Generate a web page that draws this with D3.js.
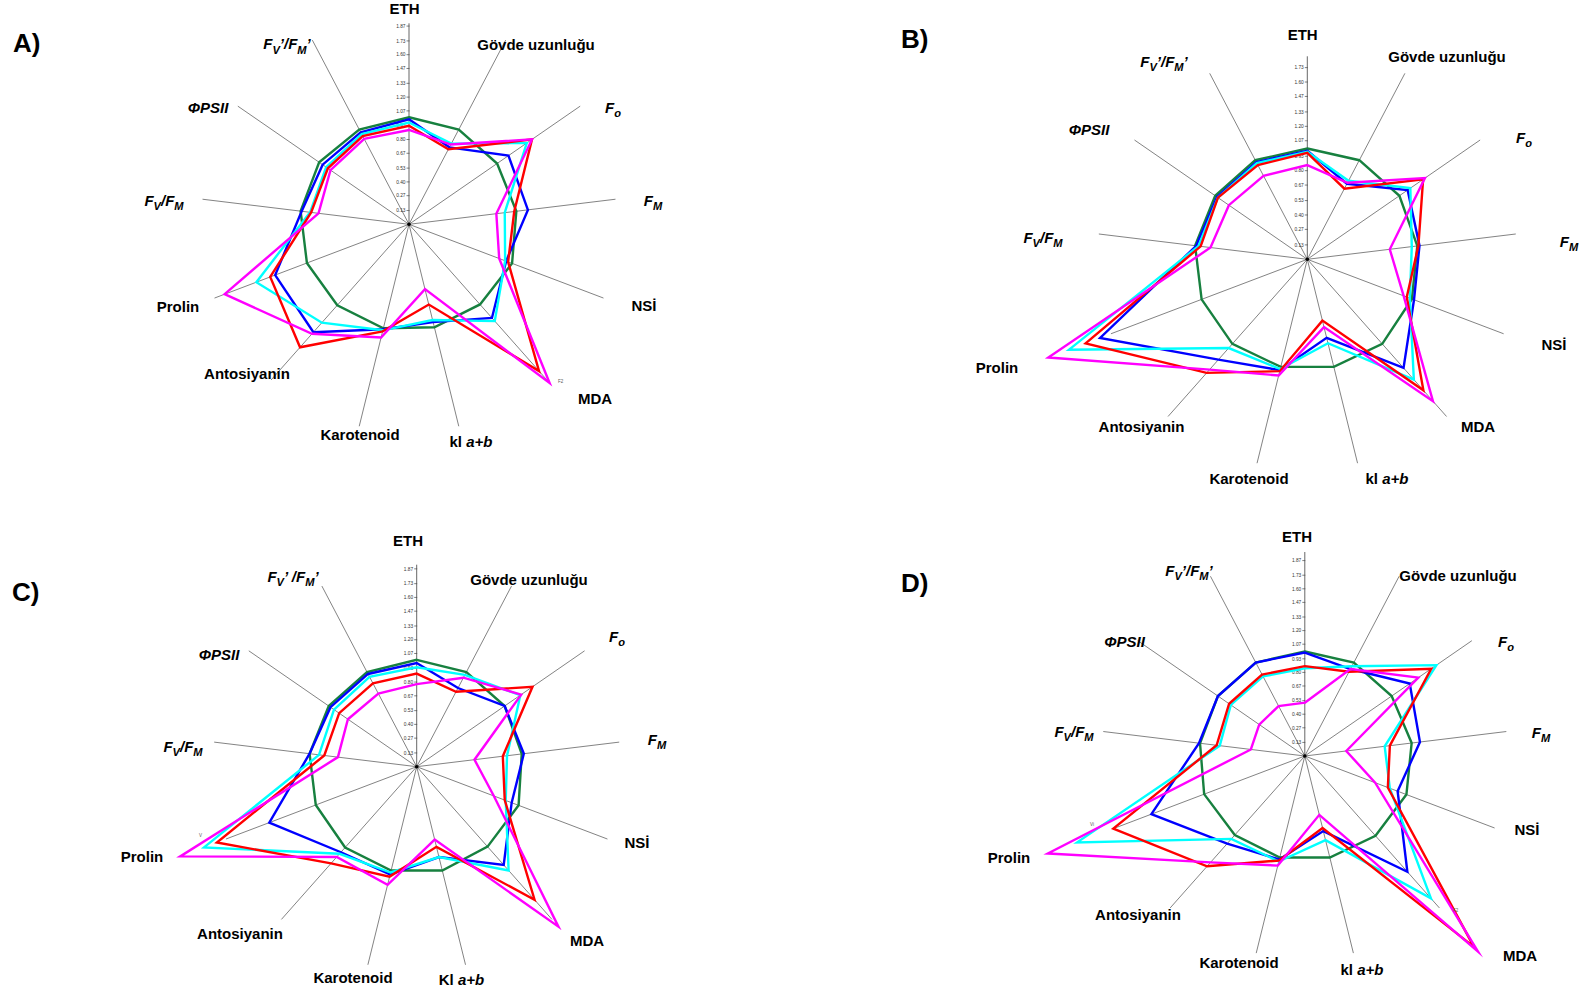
<!DOCTYPE html>
<html>
<head>
<meta charset="utf-8">
<script src="https://cdn.jsdelivr.net/npm/d3@7"></script>
<style>
  html, body { margin: 0; padding: 0; background: #fff; }
  svg { display: block; }
</style>
</head>
<body>
<svg id="chart" width="1585" height="998"></svg>
<script>
// ---- Axes (13 spokes, clockwise from the top) ----
const axisKeys = ["ETH", "Gövde uzunluğu", "Fo", "FM", "NSİ", "MDA", "kl a+b",
  "Karotenoid", "Antosiyanin", "Prolin", "Fv/Fm", "ΦPSII", "Fv'/Fm'"];

// value-axis tick labels printed along the ETH spoke
const tickLabels = ["0.13", "0.27", "0.40", "0.53", "0.67", "0.80", "0.93",
  "1.07", "1.20", "1.33", "1.47", "1.60", "1.73", "1.87"];
const tickLabelsB = ["0.13", "0.27", "0.40", "0.53", "0.67", "0.80", "0.93",
  "1.07", "1.20", "1.33", "1.47", "1.60", "1.73"];

// ---- Series values (relative to control), one array per line ----
// Panel A
const aGreen   = [1.01, 1.01, 1.01, 1.02, 1.04, 1.01, 1.00, 1.01, 1.02, 1.03, 1.03, 1.03, 1.01];
const aBlue    = [0.99, 0.82, 1.14, 1.13, 0.98, 1.18, 0.95, 1.02, 1.36, 1.35, 1.02, 0.99, 0.98];
const aCyan    = [0.96, 0.86, 1.35, 0.91, 0.97, 1.22, 0.93, 1.03, 1.24, 1.54, 0.94, 0.95, 0.96];
const aRed     = [0.93, 0.80, 1.41, 1.00, 1.00, 1.85, 0.78, 1.04, 1.55, 1.40, 0.93, 0.93, 0.94];
const aMagenta = [0.89, 0.85, 1.41, 0.83, 0.91, 2.00, 0.63, 1.10, 1.38, 1.86, 0.86, 0.90, 0.91];
// Panel B
const bGreen   = [1.00, 1.01, 1.01, 1.00, 1.01, 1.02, 1.00, 1.00, 1.02, 1.02, 1.02, 1.01, 1.01];
const bBlue    = [0.98, 0.77, 1.10, 1.02, 1.03, 1.31, 0.73, 1.03, 1.21, 2.00, 1.01, 0.99, 0.99];
const bCyan    = [0.97, 0.80, 1.13, 0.95, 0.99, 1.45, 0.78, 1.02, 1.07, 2.30, 0.99, 0.98, 0.98];
const bRed     = [0.96, 0.72, 1.27, 1.01, 0.96, 1.58, 0.57, 1.04, 1.37, 2.14, 0.97, 0.98, 0.96];
const bMagenta = [0.85, 0.78, 1.29, 0.75, 0.93, 1.71, 0.63, 1.08, 1.33, 2.50, 0.88, 0.86, 0.85];
// Panel C
const cGreen   = [1.01, 1.01, 1.01, 1.00, 1.03, 1.01, 1.01, 1.01, 1.02, 1.02, 1.02, 1.01, 1.01];
const cBlue    = [0.98, 0.84, 1.01, 1.02, 0.96, 1.24, 0.88, 1.05, 1.08, 1.49, 1.02, 0.99, 0.99];
const cCyan    = [0.94, 0.98, 1.19, 0.86, 0.90, 1.31, 0.88, 1.03, 1.10, 2.15, 0.93, 0.95, 0.96];
const cRed     = [0.88, 0.80, 1.33, 0.82, 0.89, 1.68, 0.78, 1.07, 1.22, 2.02, 0.88, 0.89, 0.89];
const cMagenta = [0.78, 0.95, 1.20, 0.55, 0.78, 2.02, 0.71, 1.15, 1.14, 2.39, 0.75, 0.79, 0.78];
// Panel D
const dGreen   = [1.00, 1.01, 1.01, 1.03, 1.04, 1.02, 1.00, 1.00, 1.01, 1.03, 1.01, 1.01, 1.01];
const dBlue    = [0.99, 0.94, 1.22, 1.11, 0.95, 1.48, 0.74, 1.02, 1.12, 1.57, 1.02, 1.01, 1.01];
const dCyan    = [0.84, 0.97, 1.53, 0.77, 0.87, 1.82, 0.83, 1.04, 1.06, 2.33, 0.82, 0.86, 0.86];
const dRed     = [0.86, 0.91, 1.47, 0.82, 0.85, 2.44, 0.71, 1.03, 1.41, 1.96, 0.85, 0.88, 0.88];
const dMagenta = [0.51, 0.94, 1.32, 0.40, 0.72, 2.50, 0.58, 1.08, 1.36, 2.63, 0.52, 0.53, 0.54];

const seriesColors = ["#17803f", "#0000ff", "#00ffff", "#ff0000", "#ff00ff"];

// ---- Axis label text, split into styled runs ----
// b = bold, bi = bold italic, sub = bold italic subscript
function axisLabelRuns(variant) {
  return [
    [["ETH", "b"]],
    [["Gövde uzunluğu", "b"]],
    [["F", "bi"], ["o", "sub"]],
    [["F", "bi"], ["M", "sub"]],
    [["NSİ", "b"]],
    [["MDA", "b"]],
    variant === "C" ? [["Kl ", "b"], ["a+b", "bi"]] : [["kl ", "b"], ["a+b", "bi"]],
    [["Karotenoid", "b"]],
    [["Antosiyanin", "b"]],
    [["Prolin", "b"]],
    [["F", "bi"], ["V", "sub"], ["/F", "bi"], ["M", "sub"]],
    [["ΦPSII", "bi"]],
    variant === "C"
      ? [["F", "bi"], ["V", "sub"], ["’ /F", "bi"], ["M", "sub"], ["’", "bi"]]
      : [["F", "bi"], ["V", "sub"], ["’/F", "bi"], ["M", "sub"], ["’", "bi"]]
  ];
}

// ---- Layout: centres, radial scale (px per unit), spoke length, label spots ----
const panels = [
  { letter: "A)", letterXY: [13, 52], cx: 409, cy: 224.3, k: 106, spoke: 208, axisTop: 201,
    ticks: tickLabels, series: [aGreen, aBlue, aCyan, aRed, aMagenta],
    labelXY: [[404.5, 8.5], [536, 45], [613, 109], [653, 202], [644, 306], [595, 399],
              [471, 442], [360, 435], [247, 374], [178, 307], [164, 202], [208, 108], [287, 45.5]],
    marks: [["F2", 558, 383]] },
  { letter: "B)", letterXY: [901, 48], cx: 1307.3, cy: 259.3, k: 110.8, spoke: 210, axisTop: 203,
    ticks: tickLabelsB, series: [bGreen, bBlue, bCyan, bRed, bMagenta],
    labelXY: [[1302.7, 35], [1447, 57], [1524, 139], [1569, 243], [1554, 345], [1478, 427],
              [1387, 479], [1249, 479], [1141.5, 427], [997, 368], [1043, 239], [1089, 130], [1164, 63]],
    marks: [] },
  { letter: "C)", letterXY: [12, 601], cx: 416.7, cy: 766.7, k: 105.8, spoke: 204, axisTop: 202,
    ticks: tickLabels, series: [cGreen, cBlue, cCyan, cRed, cMagenta],
    labelXY: [[408, 541], [529, 580], [617, 638], [657, 741], [637, 843], [587, 941],
              [461.5, 980], [353, 977.5], [240, 934], [142, 857], [183, 748], [219, 655], [293, 578]],
    marks: [["V", 199, 837]] },
  { letter: "D)", letterXY: [901, 592], cx: 1304.8, cy: 756, k: 104.5, spoke: 203, axisTop: 204,
    ticks: tickLabels, series: [dGreen, dBlue, dCyan, dRed, dMagenta],
    labelXY: [[1297, 537], [1458, 576], [1506, 643], [1541, 734], [1527, 830], [1520, 956],
              [1362, 969.5], [1239, 963], [1138, 915], [1009, 858], [1074, 733], [1124.5, 642], [1189, 572]],
    marks: [["Vi", 1090, 826], ["F2", 1453, 912]] }
];

const FONT = "'Liberation Sans', Arial, Helvetica, sans-serif";
const svg = d3.select("#chart");
svg.append("rect").attr("width", 1585).attr("height", 998).attr("fill", "#fff");

// angular position of each axis (0 = up, clockwise)
const angle = d3.scaleLinear().domain([0, axisKeys.length]).range([0, 2 * Math.PI]);

function drawRuns(g, x, y, runs, size) {
  const t = g.append("text")
    .attr("x", x).attr("y", y)
    .attr("text-anchor", "middle")
    .attr("font-family", FONT)
    .attr("font-weight", "bold")
    .attr("font-size", size)
    .attr("fill", "#000");
  let shift = 0;
  runs.forEach(([txt, st]) => {
    const ts = t.append("tspan").text(txt);
    if (st === "bi" || st === "sub") ts.attr("font-style", "italic");
    if (st === "sub") {
      const s = size * 0.3;
      ts.attr("font-size", size * 0.74).attr("dy", s - shift);
      shift = s;
    } else if (shift) {
      ts.attr("dy", -shift);
      shift = 0;
    }
  });
}

panels.forEach(p => {
  const r = d3.scaleLinear().domain([0, 1]).range([0, p.k]);
  const g = svg.append("g").attr("transform", `translate(${p.cx},${p.cy})`);

  // spokes
  g.selectAll("line.spoke")
    .data(axisKeys.map((_, i) => i).filter(i => i > 0))
    .join("line")
    .attr("class", "spoke")
    .attr("x1", 0).attr("y1", 0)
    .attr("x2", i => p.spoke * Math.sin(angle(i)))
    .attr("y2", i => -p.spoke * Math.cos(angle(i)))
    .attr("stroke", "#5a5a5a")
    .attr("stroke-width", 0.75);

  // value axis on the ETH spoke
  g.append("line")
    .attr("x1", 0).attr("y1", 0).attr("x2", 0).attr("y2", -p.axisTop)
    .attr("stroke", "#4a4a4a").attr("stroke-width", 0.85);

  const tickVals = p.ticks.map(Number);
  g.selectAll("line.tick")
    .data(tickVals).join("line")
    .attr("class", "tick")
    .attr("x1", -2.5).attr("x2", 0.5)
    .attr("y1", d => -r(d)).attr("y2", d => -r(d))
    .attr("stroke", "#4a4a4a").attr("stroke-width", 0.7);
  g.selectAll("text.tick")
    .data(p.ticks).join("text")
    .attr("class", "tick")
    .attr("x", -3.5)
    .attr("y", d => -r(+d) + 1.7)
    .attr("text-anchor", "end")
    .attr("font-family", FONT)
    .attr("font-size", 4.8)
    .attr("fill", "#333")
    .text(d => d);

  // series polygons
  const radial = d3.lineRadial()
    .angle((d, i) => angle(i))
    .radius(d => r(d))
    .curve(d3.curveLinearClosed);

  g.selectAll("path.series")
    .data(p.series).join("path")
    .attr("class", "series")
    .attr("d", d => radial(d))
    .attr("fill", "none")
    .attr("stroke", (d, i) => seriesColors[i])
    .attr("stroke-width", 2.4)
    .attr("stroke-linejoin", "miter")
    .attr("stroke-miterlimit", 10);

  // centre point
  g.append("circle").attr("r", 1.8).attr("fill", "#000");

  // axis labels
  const runs = axisLabelRuns(p.letter[0]);
  runs.forEach((rs, i) => {
    const [lx, ly] = p.labelXY[i];
    const hasSub = rs.some(s => s[1] === "sub");
    drawRuns(svg, lx, ly + 5.3 - (hasSub ? 1.5 : 0), rs, 15);
  });

  // tiny stray markers
  p.marks.forEach(([t, x, y]) => {
    svg.append("text").attr("x", x).attr("y", y)
      .attr("font-family", FONT).attr("font-size", 4.5).attr("fill", "#555")
      .text(t);
  });

  // panel letter
  svg.append("text")
    .attr("x", p.letterXY[0]).attr("y", p.letterXY[1])
    .attr("font-family", FONT).attr("font-weight", "bold")
    .attr("font-size", 26).attr("fill", "#000")
    .text(p.letter);
});
</script>
</body>
</html>
